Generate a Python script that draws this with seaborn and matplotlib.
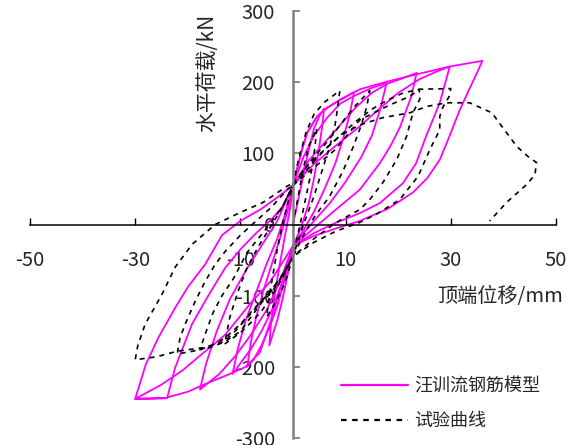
import matplotlib
matplotlib.use("Agg")
import matplotlib.pyplot as plt
from matplotlib.lines import Line2D
import seaborn as sns
import pandas as pd

# ---------------- data ----------------
x_ticks = [-50, -30, -10, 10, 30, 50]
x_tick_labels = ["-50", "-30", "-10", "10", "30", "50"]
y_ticks = [-300, -200, -100, 0, 100, 200, 300]
y_tick_labels = ["-300", "-200", "-100", "0", "100", "200", "300"]

series_names = ["汪训流钢筋模型", "试验曲线"]
x_label = "顶端位移/mm"
y_label = "水平荷载/kN"

# model (magenta) cycles
model_c1_x = [0, 1, 2, 3, 4, 5, 5.9, 5.5, 4.8, 4, 3, 1.5, 0, -1, -2, -3, -4, -4.5, -4.2, -3.5, -2.5, -1.5, -0.5, 0]
model_c1_y = [0, 35, 70, 105, 135, 152, 163, 135, 100, 65, 30, -5, -30, -70, -105, -135, -158, -170, -140, -100, -55, -15, 25, 55]

model_c2_x = [0, 1.7, 2.7, 4.6, 6.5, 8.9, 11.6, 10.8, 9.5, 8, 6, 4, 2, 0, -1.5, -3, -4.5, -6, -7.5, -8.7, -8, -7, -5.5, -4, -2.5, -1, 0]
model_c2_y = [55, 105, 129, 152, 164, 175, 186, 155, 120, 85, 50, 18, -8, -30, -75, -115, -145, -170, -190, -200, -165, -130, -90, -55, -20, 20, 55]

model_c3_x = [0, 2, 4, 6.5, 9, 12, 15, 17.8, 16.5, 15, 13, 10, 7, 4, 2, 0, -2, -4, -6, -8, -10, -11.5, -10.5, -9, -7, -5, -3, -1.5, 0]
model_c3_y = [55, 95, 125, 150, 170, 182, 192, 199, 160, 125, 95, 60, 30, 5, -12, -30, -80, -120, -150, -175, -195, -210, -175, -135, -95, -55, -20, 15, 55]

model_c4_x = [0, 3, 6, 9, 12, 15, 18, 21, 23.5, 22.5, 20.3, 18.5, 16.5, 12.7, 8, 4, 0, -2.5, -5, -8, -11, -14, -17.7, -16.5, -14.5, -12, -9, -6, -3, 0]
model_c4_y = [55, 90, 115, 140, 165, 185, 198, 206, 213, 180, 136, 110, 86, 49, 20, -5, -30, -80, -120, -155, -185, -210, -232, -195, -150, -105, -65, -30, 5, 55]

model_c5_x = [0, 4, 8, 12.7, 16, 20, 24, 27, 29.8, 28.8, 27.9, 25.3, 23.4, 20.9, 16.5, 12.7, 8, 4, 0,
              -2, -4, -6.3, -9, -12, -16, -20, -23.9, -22.4, -19.2, -16.5, -14.8, -12.9, -10, -7, -4, -2, 0]
model_c5_y = [55, 85, 110, 138, 160, 185, 204, 214, 222, 195, 171, 124, 86, 58, 30, 16, 2, -12, -30,
              -80, -130, -180, -200, -210, -222, -235, -243, -201, -140, -105, -84, -61, -35, -12, 8, 25, 55]

model_c6_x = [0, 1.7, 2.7, 4.6, 6.5, 8.9, 12.7, 18, 23.5, 29.8, 36, 34.8, 33.5, 31.7, 29.8, 27.9, 25.5, 22.8, 18, 12.7, 8, 4, 0,
              -4.4, -8, -12.9, -17, -21, -25, -30, -24, -30, -28, -25.6, -22.4, -20, -16.7, -13.5, -10, -6, -3, 0]
model_c6_y = [55, 105, 129, 152, 164, 175, 190, 201, 211, 222, 230, 210, 190, 161, 125, 91, 65, 45, 22, 5, -6, -16, -30,
              -81, -110, -155, -180, -205, -225, -245, -244, -245, -197, -159, -117, -88, -56, -15, 5, 22, 38, 55]

# test (black dashed) cycles
test_c1_x = [0, 1, 2, 3, 4.5, 4.2, 3.5, 2.5, 1.5, 0, -1, -2, -3.5, -5, -4.5, -3.8, -3, -2, -1, 0]
test_c1_y = [0, 40, 80, 110, 135, 110, 75, 40, 5, -45, -70, -90, -112, -130, -100, -70, -35, 0, 30, 55]

test_c2_x = [0, 1, 2.5, 4, 6, 8.9, 8.5, 8, 7, 5.5, 4, 2, 0, -2, -4, -6, -7.6, -10, -13, -12, -10.5, -8.7, -6.5, -4, -2, 0]
test_c2_y = [55, 90, 130, 155, 172, 188, 165, 140, 110, 75, 40, 0, -45, -75, -100, -122, -135, -152, -168, -130, -95, -60, -30, 0, 25, 55]

test_c3_x = [0, 2, 4, 6, 8, 10, 12, 14.6, 14, 13, 11.5, 9.5, 7, 4, 2, 0, -2, -4, -6, -8, -10, -13, -15.5, -17.7, -16.5, -15.2, -13.5, -11.4, -8.7, -5, -2, 0]
test_c3_y = [55, 75, 95, 112, 130, 150, 168, 188, 165, 140, 110, 75, 40, 10, -15, -45, -72, -95, -110, -130, -150, -165, -172, -176, -150, -124, -100, -77, -39, -5, 25, 55]

test_c4_x = [0, 3, 6, 9, 12, 15, 18, 21, 24, 24.1, 22.8, 21.6, 19.7, 17.1, 14.6, 12.7, 8, 4, 0,
             -2, -4, -7, -10, -13, -16, -19, -22, -21.5, -20.5, -18.6, -16.7, -14.8, -12.9, -10, -7, -4, -1, 0]
test_c4_y = [55, 80, 105, 125, 145, 162, 175, 185, 190, 176, 157, 124, 91, 59, 35, 21, 2, -20, -45,
             -70, -92, -115, -140, -160, -172, -178, -182, -160, -140, -108, -80, -56, -38, -15, 5, 25, 50, 55]

test_c5_x = [0, 4, 8, 12.7, 18.4, 22.2, 24, 30, 29.7, 28.5, 27.9, 27.9, 26, 23.8, 20.3, 16, 12.7, 8, 4, 0,
             -2, -5, -8, -11, -13, -17, -22, -26, -30, -29.5, -28.1, -24.9, -22.4, -19.2, -14.8, -10, -5.7, -1.1, 0]
test_c5_y = [55, 80, 105, 147, 168, 180, 190, 191, 180, 165, 152, 133, 105, 68, 35, 15, 3, -10, -25, -45,
             -72, -100, -125, -150, -164, -173, -178, -186, -190, -170, -140, -98, -60, -28, 0, 17, 31, 54, 58]

test_tail_x = [0, 3, 6, 9, 12.7, 17, 22.2, 25.5, 29.2, 33.6, 37.8, 40, 42.5, 44.6, 46.3, 46, 44.4, 40.6, 37.4]
test_tail_y = [58, 85, 105, 125, 140, 150, 157, 166, 171, 171, 157, 135, 110, 96, 87, 70, 56, 31, 5]

model_cycles = [(model_c1_x, model_c1_y), (model_c2_x, model_c2_y), (model_c3_x, model_c3_y),
                (model_c4_x, model_c4_y), (model_c5_x, model_c5_y), (model_c6_x, model_c6_y)]
test_cycles = [(test_c1_x, test_c1_y), (test_c2_x, test_c2_y), (test_c3_x, test_c3_y),
               (test_c4_x, test_c4_y), (test_c5_x, test_c5_y), (test_tail_x, test_tail_y)]

# ---------------- style ----------------
sns.set_theme(style="white")
plt.rcParams["font.family"] = ["Noto Sans CJK SC", "DejaVu Sans"]
plt.rcParams["axes.unicode_minus"] = False

MAGENTA = "#ff00ff"
DASH = (0, (3, 3))

fig = plt.figure(figsize=(5.67, 4.45), dpi=100)
ax = fig.add_axes([30 / 567, 7 / 445, 526 / 567, 427 / 445])

for cx, cy in model_cycles:
    df = pd.DataFrame({"x": cx, "y": cy})
    sns.lineplot(data=df, x="x", y="y", sort=False, estimator=None,
                 color=MAGENTA, linewidth=1.3, ax=ax)

for cx, cy in test_cycles:
    df = pd.DataFrame({"x": cx, "y": cy})
    sns.lineplot(data=df, x="x", y="y", sort=False, estimator=None,
                 color="black", linewidth=1.2, linestyle=DASH, ax=ax)

ax.set_xlim(-50, 50)
ax.set_ylim(-300, 300)
ax.set_xlabel("")
ax.set_ylabel("")

for side in ["top", "right"]:
    ax.spines[side].set_visible(False)
ax.spines["left"].set_position(("data", 0))
ax.spines["bottom"].set_position(("data", 0))
ax.spines["left"].set_color("#808080")
ax.spines["left"].set_linewidth(1.8)
ax.spines["bottom"].set_color("black")
ax.spines["bottom"].set_linewidth(1.1)

ax.set_xticks(x_ticks)
ax.set_xticklabels(x_tick_labels)
ax.set_yticks(y_ticks)
ax.set_yticklabels(y_tick_labels)
ax.tick_params(axis="x", direction="in", length=5, width=1, color="black",
               pad=18, labelsize=14.5, bottom=True)
ax.tick_params(axis="y", direction="in", length=5, width=1.3, color="#808080",
               pad=13, labelsize=14.5, left=True)

ax.text(27.3, -101, x_label, ha="left", va="center", fontsize=14.5)
ax.text(-16.3, 213, y_label, ha="center", va="center", rotation=90, fontsize=15)

handles = [Line2D([], [], color=MAGENTA, lw=1.6),
           Line2D([], [], color="black", lw=1.6, linestyle=(0, (2.5, 2.5)))]
fig.legend(handles, series_names, loc="upper left",
           bbox_to_anchor=(341 / 567, 1 - 377 / 445), frameon=False,
           fontsize=13, handlelength=3.7, handletextpad=0.33,
           labelspacing=0.95, borderpad=0, borderaxespad=0)

fig.savefig("out.png", dpi=100)
